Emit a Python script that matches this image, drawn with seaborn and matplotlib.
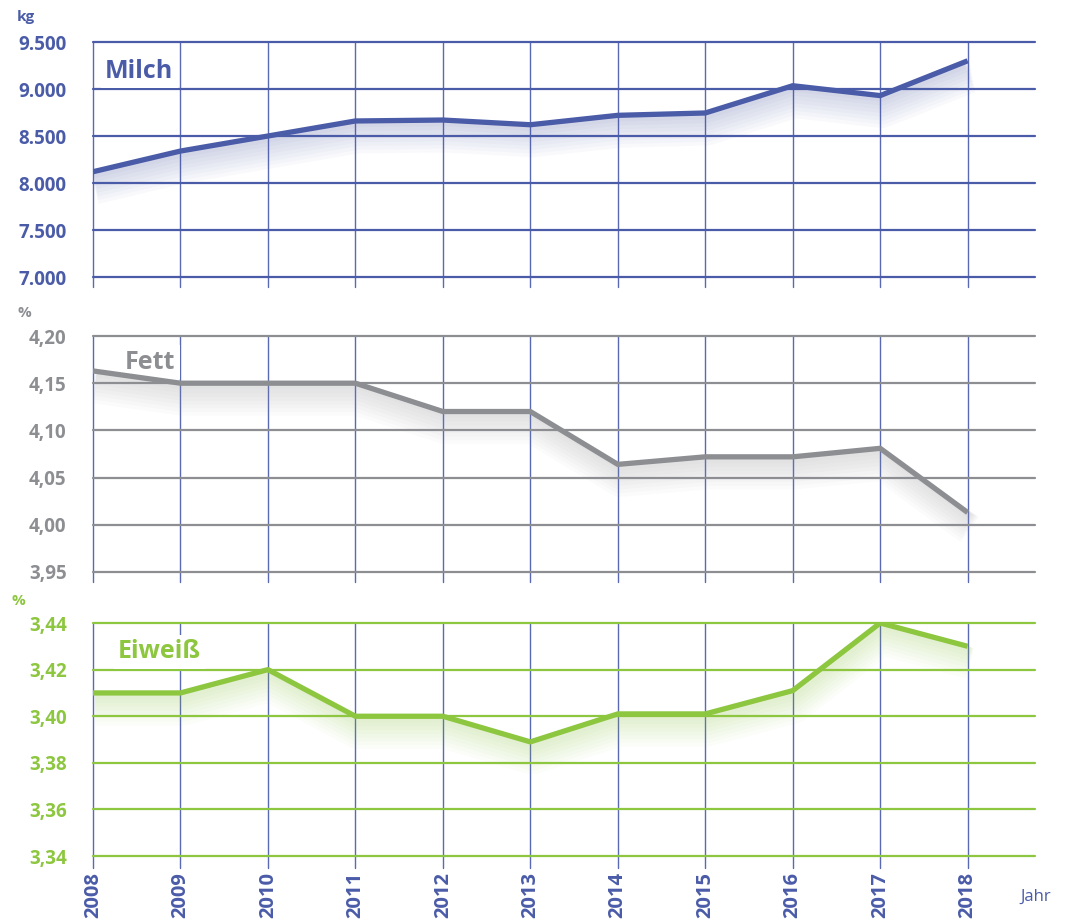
import matplotlib
matplotlib.use("Agg")
import matplotlib.pyplot as plt
import matplotlib.patheffects as pe
import seaborn as sns
import pandas as pd
import numpy as np

#%% data
jahre = [2008, 2009, 2010, 2011, 2012, 2013, 2014, 2015, 2016, 2017, 2018]
milch = [8120, 8340, 8500, 8660, 8670, 8620, 8720, 8745, 9035, 8930, 9300]
fett = [4.163, 4.15, 4.15, 4.15, 4.12, 4.12, 4.064, 4.072, 4.072, 4.081, 4.013]
eiweiss = [3.41, 3.41, 3.42, 3.40, 3.40, 3.389, 3.401, 3.401, 3.411, 3.44, 3.43]

milch_ticks = [7000, 7500, 8000, 8500, 9000, 9500]
milch_ticklabels = ["7.000", "7.500", "8.000", "8.500", "9.000", "9.500"]
fett_ticks = [3.95, 4.00, 4.05, 4.10, 4.15, 4.20]
fett_ticklabels = ["3,95", "4,00", "4,05", "4,10", "4,15", "4,20"]
eiweiss_ticks = [3.34, 3.36, 3.38, 3.40, 3.42, 3.44]
eiweiss_ticklabels = ["3,34", "3,36", "3,38", "3,40", "3,42", "3,44"]

blue = "#4a5ba8"
grid_blue = "#5a69b3"
gray = "#8c8e92"
green = "#8dc63f"

df = pd.DataFrame({"jahr": jahre, "milch": milch, "fett": fett, "eiweiss": eiweiss})

#%% plotting
sns.set_style("white")
plt.rcParams['font.family'] = ['Open Sans', 'DejaVu Sans']
plt.rcParams['font.weight'] = 'bold'

fig = plt.figure(figsize=(10.69, 9.22), dpi=100)

left, width = 93 / 1069, (1035 - 93) / 1069
panels = [
    # (bottom px, top px, column, colour, ticks, ticklabels, ybottom, unit, unit pos, title, title pos)
    (287, 42, "milch", blue, milch_ticks, milch_ticklabels, 6894, "kg", (17, 17), "Milch", (105, 71)),
    (582, 336, "fett", gray, fett_ticks, fett_ticklabels, 3.9394, "%", (17, 313), "Fett", (125, 362)),
    (868, 623, "eiweiss", green, eiweiss_ticks, eiweiss_ticklabels, 3.3349, "%", (12, 601), "Eiweiß", (118, 652)),
]

axes = []
for (pb, pt, col, c, ticks, tlabels, ybot, unit, upos, title, tpos) in panels:
    ax = fig.add_axes([left, 1 - pb / 922, width, (pb - pt) / 922])
    axes.append(ax)
    shadow = [pe.SimpleLineShadow(offset=(1.5, -2.5 - 1.4 * k), shadow_color=c, alpha=0.03, linewidth=4 + 2.6 * k)
              for k in range(8)] + [pe.Normal()]
    sns.lineplot(data=df, x="jahr", y=col, color=c, linewidth=3.8, ax=ax, zorder=5,
                 path_effects=shadow, solid_capstyle="butt")
    ax.set_xlim(2008, 2018.77)
    ax.set_ylim(ybot, ticks[-1])
    ax.set_yticks(ticks)
    ax.set_yticklabels(tlabels, fontweight="bold", fontsize=13.5, color=c)
    ax.set_xticks(jahre)
    for s in ax.spines.values():
        s.set_visible(False)
    ax.tick_params(axis="y", length=0, pad=19)
    ax.tick_params(axis="x", length=0)
    ax.yaxis.grid(True, color=c, linewidth=1.6)
    ax.xaxis.grid(True, color=grid_blue, linewidth=1.0)
    ax.set_axisbelow(True)
    for l in ax.get_ygridlines() + ax.get_xgridlines():
        l.set_clip_on(False)
    ax.set_xlabel("")
    ax.set_ylabel("")
    fig.text(upos[0] / 1069, 1 - upos[1] / 922, unit, color=c, fontsize=11, fontweight="bold",
             va="center", ha="left")
    ax.text(tpos[0] / 1069, 1 - tpos[1] / 922, title, transform=fig.transFigure, color=c, fontsize=18,
            fontweight="bold", va="center", ha="left", zorder=4,
            bbox=dict(facecolor="white", edgecolor="none", pad=3))

for ax in axes[:2]:
    ax.set_xticklabels([])

ax = axes[2]
ax.set_xticklabels([str(j) for j in jahre], rotation=90, fontsize=14.5, fontweight="bold", color=blue)
ax.tick_params(axis="x", pad=3)
fig.text(1020 / 1069, 1 - 897 / 922, "Jahr", color=blue, fontsize=12, fontweight="normal",
         va="center", ha="left")

fig.savefig("out.png", dpi=100)
